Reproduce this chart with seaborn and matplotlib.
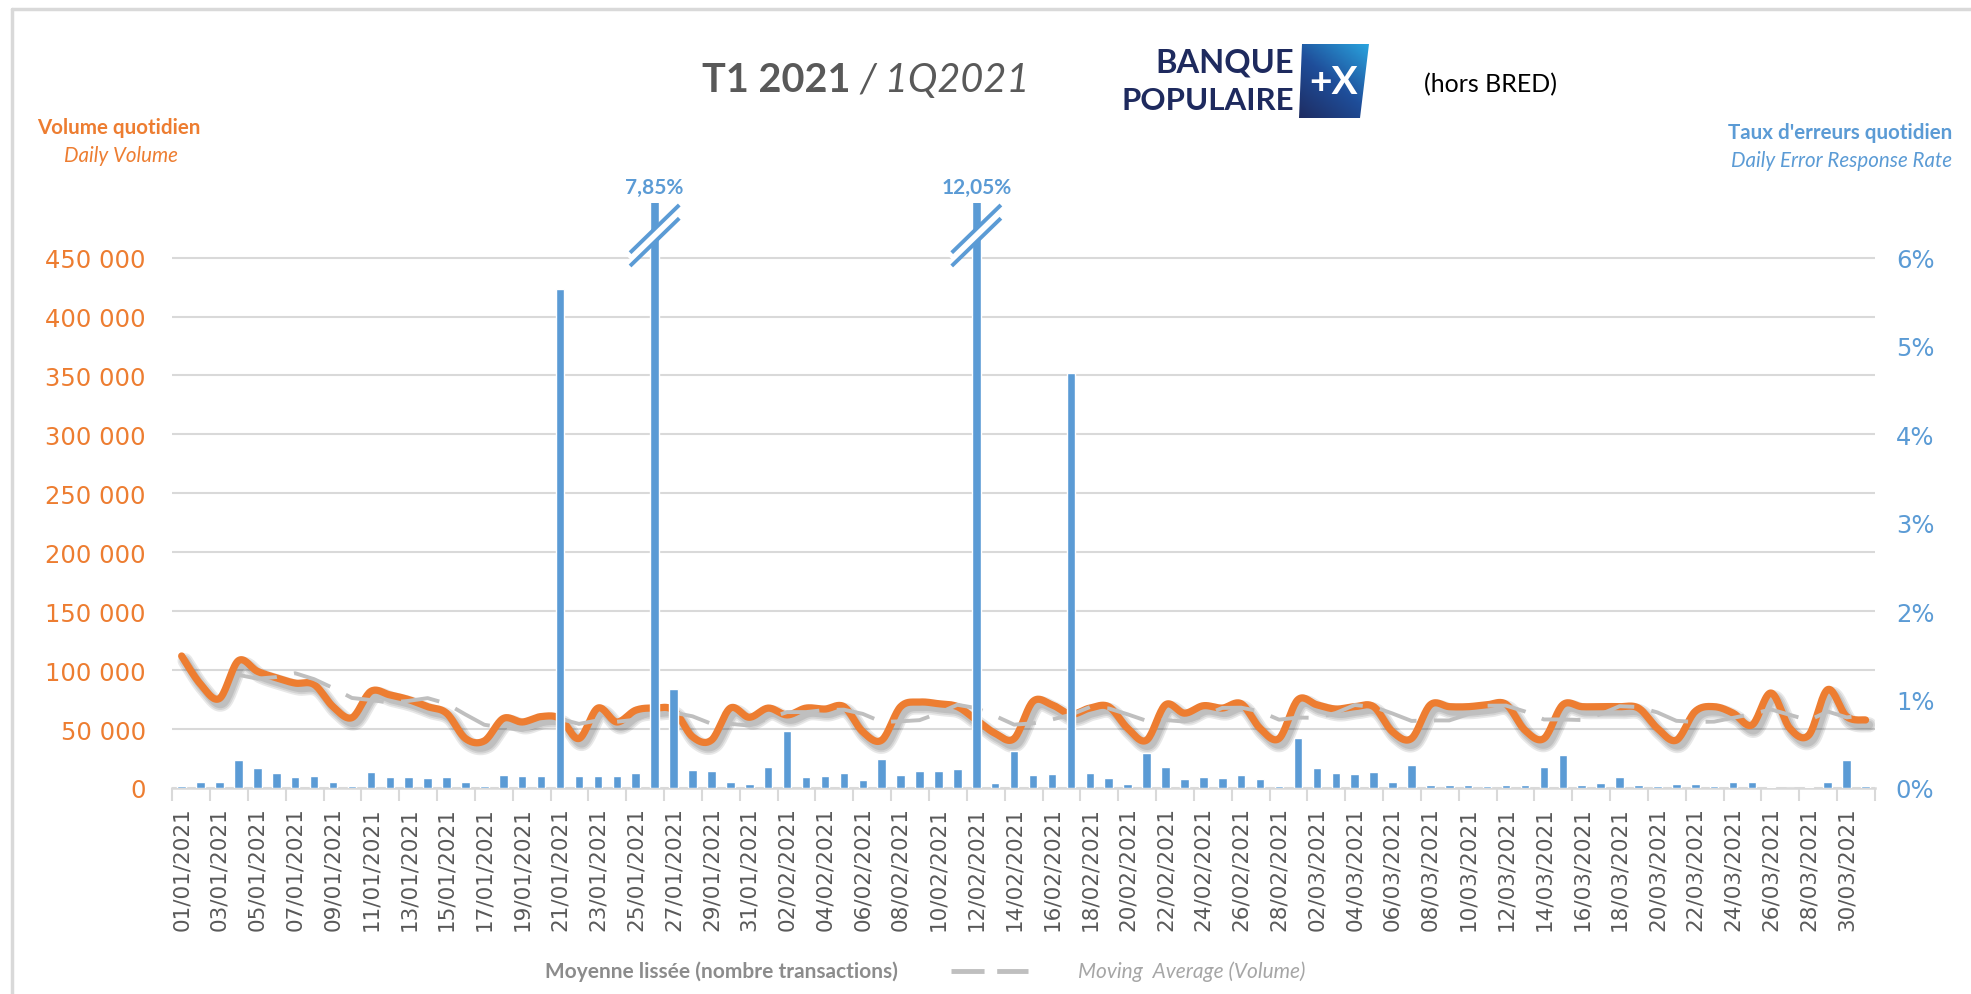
import numpy as np
import pandas as pd
import matplotlib
matplotlib.use("Agg")
import matplotlib.pyplot as plt
import seaborn as sns
from matplotlib import patheffects as pe
from matplotlib.patches import Polygon
from matplotlib.lines import Line2D
from matplotlib.ticker import FixedLocator, FuncFormatter
from matplotlib.colors import LinearSegmentedColormap

# ---------------- data ----------------
dates = pd.date_range("2021-01-01", "2021-03-31", freq="D")
date_labels = [d.strftime("%d/%m/%Y") for d in dates]

daily_volume = [
    112000, 88000, 76000, 108000, 99000, 93500, 89000, 87800, 69000, 59700,
    82000, 79000, 75000, 69000, 63500, 42000, 40000, 59000, 56000, 60600,
    59000, 42000, 67800, 56000, 66000, 67800, 66000, 43500, 40600, 67800,
    60000, 67800, 62000, 67800, 67000, 69000, 47700, 40600, 69000, 72900,
    71500, 69000, 57700, 46300, 42000, 73500, 70600, 62600, 67800, 69000,
    50600, 40600, 70600, 63500, 69800, 67800, 71500, 50600, 42000, 74900,
    70600, 67000, 69000, 69000, 47700, 42000, 70600, 69000, 69000, 70600,
    71000, 49000, 42000, 70600, 69000, 69000, 69000, 67800, 50600, 40600,
    65000, 69000, 63500, 53500, 80600, 50600, 44900, 83500, 60600, 57700,
]

error_rate = [
    0.026, 0.064, 0.068, 0.32, 0.23, 0.17, 0.13, 0.14, 0.07, 0.026,
    0.18, 0.13, 0.125, 0.11, 0.125, 0.072, 0.023, 0.147, 0.136, 0.136,
    5.65, 0.136, 0.136, 0.136, 0.17, 7.85, 1.125, 0.20, 0.196, 0.072,
    0.05, 0.24, 0.645, 0.128, 0.136, 0.17, 0.087, 0.33, 0.15, 0.19,
    0.19, 0.215, 12.05, 0.057, 0.42, 0.143, 0.158, 4.69, 0.17, 0.113,
    0.05, 0.40, 0.234, 0.098, 0.125, 0.113, 0.147, 0.098, 0.026, 0.56,
    0.23, 0.166, 0.155, 0.18, 0.068, 0.26, 0.03, 0.03, 0.038, 0.023,
    0.03, 0.038, 0.234, 0.377, 0.038, 0.057, 0.128, 0.034, 0.023, 0.04,
    0.04, 0.023, 0.064, 0.072, 0.015, 0.0, 0.011, 0.064, 0.32, 0.026,
]

ma_window = 4
volume_ticks = list(range(0, 450001, 50000))
rate_ticks = [0, 1, 2, 3, 4, 5, 6]

ORANGE = "#ED7D31"
BLUE = "#5B9BD5"
GREY_MA = "#BFBFBF"
GRID = "#D9D9D9"
TXT = "#595959"

df = pd.DataFrame({"day": np.arange(len(dates)), "volume": daily_volume, "rate": error_rate})
df["ma"] = df["volume"].rolling(ma_window).mean()


def catmull_rom(xv, yv, n=20):
    """Excel-like smoothed rendering of a polyline (display only)."""
    p = np.column_stack([xv, yv]).astype(float)
    p = np.vstack([p[0], p, p[-1]])
    out = []
    t = np.linspace(0, 1, n, endpoint=False)[:, None]
    for i in range(1, len(p) - 2):
        p0, p1, p2, p3 = p[i - 1], p[i], p[i + 1], p[i + 2]
        seg = 0.5 * (2 * p1 + (-p0 + p2) * t + (2 * p0 - 5 * p1 + 4 * p2 - p3) * t ** 2
                     + (-p0 + 3 * p1 - 3 * p2 + p3) * t ** 3)
        out.append(seg)
    out.append(p[-2][None, :])
    out = np.vstack(out)
    return out[:, 0], out[:, 1]


# ---------------- figure ----------------
sns.set_theme(style="white")
plt.rcParams["font.family"] = ["Lato", "DejaVu Sans"]

W, H = 1971, 995
fig = plt.figure(figsize=(W / 100, H / 100), dpi=100)

VOL_TOP = 496300
ax = fig.add_axes([172.2 / W, 206 / H, (1875 - 172.2) / W, 585 / H])
ax2 = ax.twinx()

# smoothed daily volume with soft shadow
sx, sy = catmull_rom(df["day"].values, df["volume"].values)
shadow = [pe.SimpleLineShadow(offset=(2.5, -3.5), shadow_color="#000000", alpha=0.09, linewidth=lw)
          for lw in (11, 8.5, 6)]
ax.plot(sx, sy, color=ORANGE, lw=5.2, solid_capstyle="round", zorder=3,
        path_effects=shadow + [pe.Normal()])

# moving average (dashed grey)
sns.lineplot(data=df, x="day", y="ma", ax=ax, color=GREY_MA, lw=2.8,
             linestyle=(0, (10, 4.5)), zorder=4)

ax.set_ylim(0, VOL_TOP)
ax.set_yticks(volume_ticks)
ax.yaxis.set_major_formatter(FuncFormatter(lambda v, _: f"{v:,.0f}".replace(",", " ")))
ax.tick_params(axis="y", colors=ORANGE, labelcolor=ORANGE, labelsize=17.5, length=0, pad=19)
ax.yaxis.grid(True, color=GRID, lw=1.5)
ax.xaxis.grid(False)
ax.set_axisbelow(True)

# error rate bars (on top)
sns.barplot(data=df, x="day", y="rate", ax=ax2, color=BLUE, width=0.45,
            native_scale=True, saturation=1, errorbar=None, zorder=5)
ax2.set_ylim(0, VOL_TOP / 75000)
ax2.set_yticks(rate_ticks)
ax2.yaxis.set_major_formatter(FuncFormatter(lambda v, _: f"{v:.0f}%"))
ax2.tick_params(axis="y", colors=BLUE, labelcolor=BLUE, labelsize=17.5, length=0, pad=15)
ax2.grid(False)
ax2.set_ylabel("")

# x axis
ax.set_xlim(-0.5, len(dates) - 0.5)
ax.set_xticks(df["day"].values[::2])
ax.set_xticklabels(date_labels[::2], rotation=90, fontsize=15.5, color=TXT,
                   family="DejaVu Sans")
ax.xaxis.set_minor_locator(FixedLocator(np.arange(-0.5, len(dates), 2)))
ax.tick_params(axis="x", which="major", length=0, pad=13)
ax.tick_params(axis="x", which="minor", bottom=True, length=9, width=1.5, color=GRID)
ax.set_xlabel("")
ax.set_ylabel("")
for t in ax.get_yticklabels() + ax2.get_yticklabels():
    t.set_family("DejaVu Sans")

for s in ["top", "left", "right"]:
    ax.spines[s].set_visible(False)
    ax2.spines[s].set_visible(False)
ax2.spines["bottom"].set_visible(False)
ax.spines["bottom"].set_color(GRID)
ax.spines["bottom"].set_linewidth(1.8)
ax.patch.set_visible(False)
ax2.patch.set_visible(False)

# broken bars: break marks + true value labels
ytop = ax2.get_ylim()[1]
for i, v in enumerate(error_rate):
    if v > ytop:
        ym = 6.25
        bx = [i - 1.3, i + 1.3]
        by = [ym - 0.27, ym + 0.27]
        ax2.plot(bx, by, color="white", lw=7.5, zorder=8, solid_capstyle="butt")
        for off in (-0.075, 0.075):
            ax2.plot(bx, [b + off for b in by], color=BLUE, lw=2.8, zorder=9,
                     solid_capstyle="butt")
        ax2.annotate(f"{v:.2f}%".replace(".", ","), xy=(i, ytop), xytext=(0, 4),
                     textcoords="offset points", ha="center", va="bottom",
                     color=BLUE, fontsize=15, fontweight="bold", annotation_clip=False)

# ---------------- texts ----------------
fig.text(851 / W, 1 - 80 / H, "T1 2021", ha="right", va="center", fontsize=28.5,
         fontweight="bold", color=TXT)
fig.text(859 / W, 1 - 80 / H, "/ 1Q2021", ha="left", va="center", fontsize=28.5,
         style="italic", color=TXT)

fig.text(119 / W, 1 - 128 / H, "Volume quotidien", ha="center", va="center",
         fontsize=14.8, fontweight="bold", color=ORANGE)
fig.text(121 / W, 1 - 156 / H, "Daily Volume", ha="center", va="center",
         fontsize=14.8, style="italic", color=ORANGE)
fig.text(1952 / W, 1 - 133 / H, "Taux d'erreurs quotidien", ha="right", va="center",
         fontsize=14.8, fontweight="bold", color=BLUE)
fig.text(1952 / W, 1 - 161 / H, "Daily Error Response Rate", ha="right", va="center",
         fontsize=14.8, style="italic", color=BLUE)

fig.text(1490 / W, 1 - 85 / H, "(hors BRED)", ha="center", va="center",
         fontsize=18, color="#000000")

# logo
NAVY = "#1E2A5E"
fig.text(1294 / W, 1 - 63 / H, "BANQUE", ha="right", va="center", fontsize=23.5,
         fontweight="bold", color=NAVY)
fig.text(1294 / W, 1 - 101 / H, "POPULAIRE", ha="right", va="center", fontsize=22.5,
         fontweight="bold", color=NAVY)
lax = fig.add_axes([1294 / W, 1 - 120 / H, 76 / W, 76 / H])
lax.set_xlim(0, 76)
lax.set_ylim(0, 76)
lax.axis("off")
gx, gy = np.meshgrid(np.linspace(0, 1, 64), np.linspace(0, 1, 64))
gval = (gx * 0.45 + gy * 0.55)
cmap = LinearSegmentedColormap.from_list("bp", [NAVY, "#1F4E9A", "#2AA6E0"])
im = lax.imshow(gval, cmap=cmap, origin="lower", extent=[0, 76, 0, 76], aspect="auto")
poly = Polygon([(5, 1), (8, 75), (75, 75), (66, 1)], closed=True, transform=lax.transData,
               facecolor="none", edgecolor="none")
lax.add_patch(poly)
im.set_clip_path(poly)
lax.text(40, 38, "+X", ha="center", va="center", color="white", fontsize=28,
         fontweight="bold")

# bottom legend
fig.text(545 / W, 1 - 972 / H, "Moyenne lissée (nombre transactions)", ha="left",
         va="center", fontsize=15, fontweight="bold", color="#8C8C8C")
fig.add_artist(Line2D([951 / W, 1028 / W], [1 - 972 / H, 1 - 972 / H], color=GREY_MA,
                      lw=3.5, linestyle=(0, (6.8, 2.6)), transform=fig.transFigure))
fig.text(1078 / W, 1 - 972 / H, "Moving  Average (Volume)", ha="left", va="center",
         fontsize=15, style="italic", color="#A6A6A6")

# chart frame
fig.add_artist(Line2D([12 / W, 1], [1 - 10 / H, 1 - 10 / H], color=GRID, lw=2.5,
                      transform=fig.transFigure))
fig.add_artist(Line2D([12 / W, 12 / W], [0, 1 - 10 / H], color=GRID, lw=2.5,
                      transform=fig.transFigure))

fig.savefig("out.png", dpi=100, facecolor="white")
